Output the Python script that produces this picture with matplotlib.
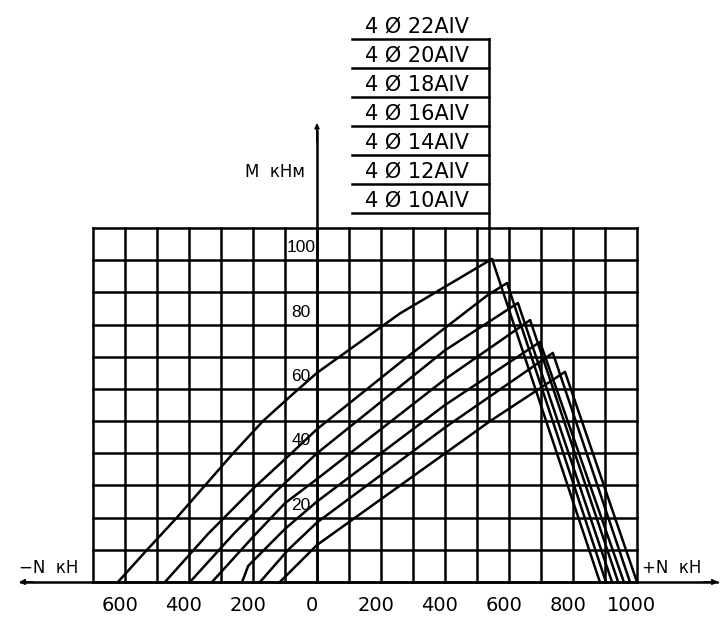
import matplotlib
matplotlib.use("Agg")
import matplotlib.pyplot as plt

# Диаграмма несущей способности: N (кН) - M (кНм)
bars = ['22', '20', '18', '16', '14', '12', '10']

n_22 = [-622, -531, -438, -350, -262, -169, -80, 0, 260, 547, 884]
m_22 = [0, 10, 20, 30, 40, 50, 58, 65, 83.5, 100.4, 0]
n_20 = [-475, -340, -200, -80, 0, 270, 534, 594, 903]
m_20 = [0, 15, 29, 40, 47.5, 69, 89.2, 92.9, 0]
n_18 = [-397, -260, -130, 0, 400, 628, 922]
m_18 = [0, 15, 28, 40, 72, 86.7, 0]
n_16 = [-328, -200, -100, 0, 400, 666, 941]
m_16 = [0, 14, 24.5, 32, 63, 81.4, 0]
n_14 = [-234, -215, -100, 0, 400, 697, 959]
m_14 = [0, 5, 16.5, 25, 55, 74.6, 0]
n_12 = [-178, -90, 0, 400, 737, 978]
m_12 = [0, 10, 18.5, 48, 71.2, 0]
n_10 = [-116, 0, 541, 775, 1000]
m_10 = [0, 11.5, 50, 65.3, 0]

n_ticks = [-600, -400, -200, 0, 200, 400, 600, 800, 1000]
n_tick_labels = ['600', '400', '200', '0', '200', '400', '600', '800', '1000']
m_ticks = [20, 40, 60, 80, 100]

curves = [(n_22, m_22), (n_20, m_20), (n_18, m_18), (n_16, m_16),
          (n_14, m_14), (n_12, m_12), (n_10, m_10)]

fig = plt.figure(figsize=(7.27, 6.24), dpi=100)
ax = fig.add_axes([0, 0, 1, 1])
ax.set_xlim(-990.6, 1281.3)
ax.set_ylim(-13.05, 180.86)
ax.axis('off')

lw = 1.8
# сетка
for n in range(-700, 1001, 100):
    ax.plot([n, n], [0, 110], color='black', lw=lw)
for m in range(0, 111, 10):
    ax.plot([-700, 1000], [m, m], color='black', lw=lw)

# оси
ax.plot([-925, 1250], [0, 0], color='black', lw=lw)
ax.annotate('', xy=(-940, 0), xytext=(-880, 0),
            arrowprops=dict(arrowstyle='-|>', color='black', lw=1.2, mutation_scale=8))
ax.annotate('', xy=(1262, 0), xytext=(1200, 0),
            arrowprops=dict(arrowstyle='-|>', color='black', lw=1.2, mutation_scale=8))
ax.plot([0, 0], [0, 140], color='black', lw=lw)
ax.annotate('', xy=(0, 143.5), xytext=(0, 136),
            arrowprops=dict(arrowstyle='-|>', color='black', lw=1.2, mutation_scale=7))

# кривые
for n_vals, m_vals in curves:
    ax.plot(n_vals, m_vals, color='black', lw=lw, solid_joinstyle='round')

# подписи осей
for n, lab in zip(n_ticks, n_tick_labels):
    ax.text(n - 16, -7.2, lab, fontsize=14, ha='center', va='center')
for m in m_ticks:
    ax.text(-50, m + 3.9, str(m), fontsize=12.5, ha='center', va='center',
            family='Liberation Sans')

ax.text(-932, 4.2, '\u2212N  кН', fontsize=12, ha='left', va='center')
ax.text(1015, 4.2, '+N  кН', fontsize=12, ha='left', va='center')
ax.text(-38, 127.4, 'M  кНм', fontsize=12, ha='right', va='center')

# таблица армирования
row_top = 168.7
row_step = 9.0
ax.plot([537, 537], [50.3, row_top], color='black', lw=lw)
for i, b in enumerate(bars):
    y = row_top - i * row_step
    ax.plot([109, 537], [y, y], color='black', lw=lw)
    ax.text(150, y + 0.8, '4 Ø ' + b + 'АIV', fontsize=15, ha='left', va='bottom')

fig.savefig('out.png', dpi=100)
